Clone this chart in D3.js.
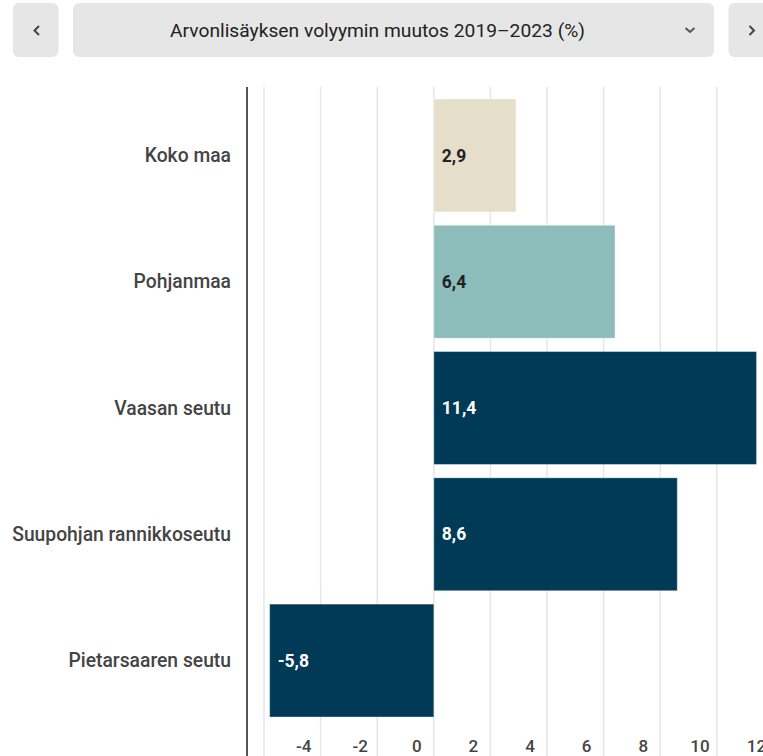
<!DOCTYPE html>
<html>
<head>
<meta charset="utf-8">
<script src="https://cdn.jsdelivr.net/npm/d3@7"></script>
<style>
  html, body { margin: 0; padding: 0; background: #ffffff; overflow: hidden; }
  body { width: 763px; height: 756px; }
  svg { display: block; font-family: Roboto, "Noto Sans", sans-serif; }
</style>
</head>
<body>
<svg id="chart" width="763" height="756"></svg>
<script>
const title = "Arvonlisäyksen volyymin muutos 2019–2023 (%)";
const categories = ["Koko maa", "Pohjanmaa", "Vaasan seutu", "Suupohjan rannikkoseutu", "Pietarsaaren seutu"];
const values = [2.9, 6.4, 11.4, 8.6, -5.8];
const barColors = ["#e5dfca", "#8dbdbb", "#003a57", "#003a57", "#003a57"];
const labelColors = ["#222222", "#222222", "#ffffff", "#ffffff", "#ffffff"];
const tickValues = [-6, -4, -2, 0, 2, 4, 6, 8, 10, 12];
const tickLabels = ["", "-4", "-2", "0", "2", "4", "6", "8", "10", "12"];

const svg = d3.select("#chart");

// Header controls
const hdr = svg.append("g");
hdr.append("rect").attr("x", 13).attr("y", 3).attr("width", 45.5).attr("height", 54).attr("rx", 6).attr("fill", "#e6e6e6");
hdr.append("rect").attr("x", 73).attr("y", 3).attr("width", 641).attr("height", 54).attr("rx", 6).attr("fill", "#e6e6e6");
hdr.append("rect").attr("x", 728.5).attr("y", 3).attr("width", 60).attr("height", 54).attr("rx", 6).attr("fill", "#e6e6e6");
hdr.append("path").attr("d", "M39,26 L34.5,30.5 L39,35").attr("fill", "none").attr("stroke", "#444").attr("stroke-width", 2);
hdr.append("path").attr("d", "M749.5,26 L754,30.5 L749.5,35").attr("fill", "none").attr("stroke", "#444").attr("stroke-width", 2);
hdr.append("path").attr("d", "M685.5,28 L690,32 L694.5,28").attr("fill", "none").attr("stroke", "#555").attr("stroke-width", 2);
hdr.append("text").attr("x", 377.5).attr("y", 30).attr("dy", "0.35em")
  .attr("text-anchor", "middle").attr("font-size", 19.2).attr("fill", "#222")
  .attr("textLength", 415).attr("lengthAdjust", "spacingAndGlyphs").text(title);

// Scales
const x = d3.scaleLinear().domain([-6, 12]).range([264, 773.5]);
const y = d3.scaleBand().domain(categories).range([92.3, 723.7]).paddingInner(0.106).paddingOuter(0.053);

// Gridlines
svg.append("g").selectAll("line").data(tickValues).join("line")
  .attr("x1", d => x(d)).attr("x2", d => x(d))
  .attr("y1", 87).attr("y2", 756)
  .attr("stroke", "#e6e6e6").attr("stroke-width", 1.5);

// Bars
svg.append("g").selectAll("rect").data(values).join("rect")
  .attr("x", d => x(Math.min(0, d)))
  .attr("width", d => Math.abs(x(d) - x(0)))
  .attr("y", (d, i) => y(categories[i]))
  .attr("height", y.bandwidth())
  .attr("fill", (d, i) => barColors[i])
  .attr("stroke", "rgba(255,255,255,0.35)").attr("stroke-width", 1);

// Value labels
svg.append("g").selectAll("text").data(values).join("text")
  .attr("x", d => x(Math.min(0, d)) + 8)
  .attr("y", (d, i) => y(categories[i]) + y.bandwidth() / 2)
  .attr("dy", "0.35em")
  .attr("font-size", 17.5).attr("font-weight", 700)
  .attr("fill", (d, i) => labelColors[i])
  .text(d => String(d).replace(".", ","));

// Y axis line
svg.append("line").attr("x1", 247).attr("x2", 247).attr("y1", 87).attr("y2", 756)
  .attr("stroke", "#555").attr("stroke-width", 2);

// Category labels
svg.append("g").selectAll("text").data(categories).join("text")
  .attr("x", 231)
  .attr("y", d => y(d) + y.bandwidth() / 2)
  .attr("dy", "0.35em")
  .attr("text-anchor", "end")
  .attr("font-size", 19.3).attr("font-weight", 500).attr("fill", "#444")
  .text(d => d);

// X tick labels
svg.append("g").selectAll("text").data(tickValues).join("text")
  .attr("x", d => x(d) - 17)
  .attr("y", 746)
  .attr("dy", "0.35em")
  .attr("text-anchor", "middle")
  .attr("font-size", 17).attr("font-weight", 500).attr("fill", "#444")
  .text((d, i) => tickLabels[i]);
</script>
</body>
</html>
